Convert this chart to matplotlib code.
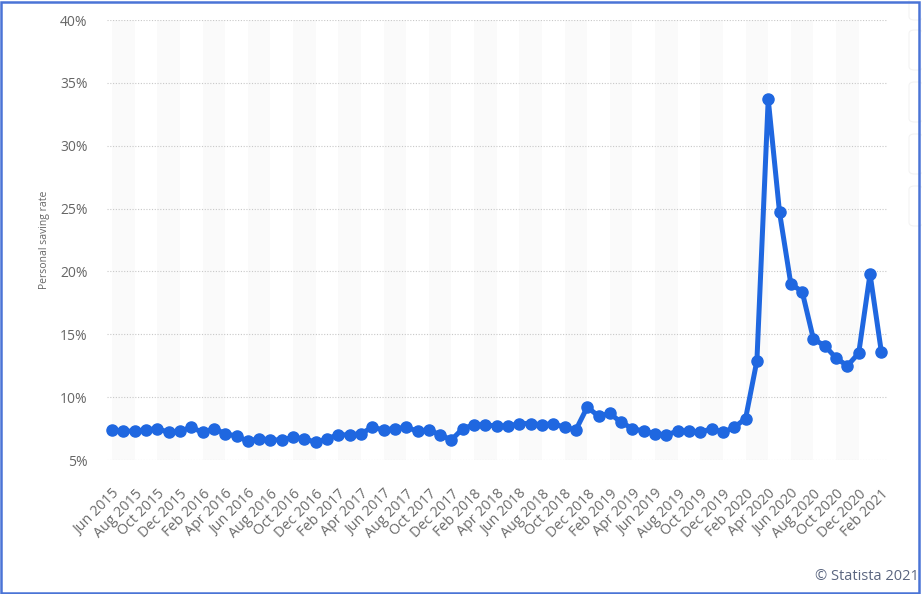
import numpy as np
import matplotlib.pyplot as plt
from matplotlib.patches import Rectangle, FancyBboxPatch

# monthly personal saving rate, Jun 2015 .. Feb 2021 (in %)
months = ["Jan", "Feb", "Mar", "Apr", "May", "Jun",
          "Jul", "Aug", "Sep", "Oct", "Nov", "Dec"]
start_month, start_year = 6, 2015

saving_rate = [
    7.4, 7.3, 7.3, 7.4, 7.5, 7.2, 7.3,            # Jun-Dec 2015
    7.6, 7.2, 7.5, 7.1, 6.9, 6.5, 6.7, 6.6, 6.6, 6.8, 6.7, 6.4,   # 2016
    6.7, 7.0, 7.0, 7.1, 7.6, 7.4, 7.5, 7.6, 7.3, 7.4, 7.0, 6.6,   # 2017
    7.5, 7.8, 7.8, 7.7, 7.7, 7.9, 7.9, 7.8, 7.9, 7.6, 7.4, 9.2,   # 2018
    8.5, 8.7, 8.0, 7.5, 7.3, 7.1, 7.0, 7.3, 7.3, 7.2, 7.5, 7.2,   # 2019
    7.6, 8.3, 12.9, 33.7, 24.7, 19.0, 18.4, 14.6, 14.1, 13.1, 12.5, 13.5,  # 2020
    19.8, 13.6,                                    # Jan-Feb 2021
]

y_ticks = [5, 10, 15, 20, 25, 30, 35, 40]
y_label = "Personal saving rate"
source_note = "\u00a9 Statista 2021"

# month labels for every point
labels = []
for i in range(len(saving_rate)):
    m = (start_month - 1 + i) % 12
    y = start_year + (start_month - 1 + i) // 12
    labels.append("{} {}".format(months[m], y))

plt.rcParams['font.family'] = ['Open Sans', 'DejaVu Sans']

fig = plt.figure(figsize=(9.22, 5.94), dpi=100)
ax = fig.add_axes([107 / 922, 134 / 594, 780 / 922, 440 / 594])

x = np.arange(len(saving_rate))

# light alternating bands
for k in range(0, len(saving_rate) - 2, 4):
    ax.axvspan(k, k + 2, color='#fafafa', zorder=0, lw=0)

for t in y_ticks:
    ax.axhline(t, color='#c8c8c8', linestyle=(0, (1, 1.5)), linewidth=0.8, zorder=1)

ax.plot(x, saving_rate, color='#1f67e0', linewidth=3.6, marker='o',
        markersize=8, solid_joinstyle='round', zorder=3, clip_on=False)

ax.set_xlim(-0.45, len(saving_rate) - 0.5)
ax.set_ylim(5, 40)
ax.set_yticks(y_ticks)
ax.set_yticklabels(["{}%".format(t) for t in y_ticks], fontsize=10, color='#666666')
ax.set_xticks(x[::2])
ax.set_xticklabels(labels[::2], rotation=45, ha='right', rotation_mode='anchor',
                   fontsize=10.3, color='#6a6a6a')
ax.tick_params(axis='both', length=0)
ax.tick_params(axis='y', pad=14)
ax.tick_params(axis='x', pad=19)
for s in ax.spines.values():
    s.set_visible(False)

fig.text(44 / 922, 1 - 240 / 594, y_label, rotation=90, ha='center', va='center',
         fontsize=7.5, color='#666666')
fig.text(919 / 922, 1 - 577 / 594, source_note, ha='right', va='center',
         fontsize=10.5, color='#5b6680')

# faint side toolbar placeholders
for y0, h in [(-10, 30), (30, 40), (82, 40), (134, 40), (186, 40)]:
    fig.patches.append(FancyBboxPatch((909 / 922, 1 - (y0 + h) / 594), 14 / 922, h / 594,
                                      boxstyle="round,pad=0,rounding_size=0.006",
                                      transform=fig.transFigure, facecolor='white',
                                      edgecolor='#f3f3f3', linewidth=0.8, zorder=5))

# outer blue frame
fig.patches.append(Rectangle((0.001, 0.002), 0.996, 0.995, transform=fig.transFigure,
                             fill=False, edgecolor='#4a74d6', linewidth=1.8, zorder=10))

fig.savefig("out.png", dpi=100)
